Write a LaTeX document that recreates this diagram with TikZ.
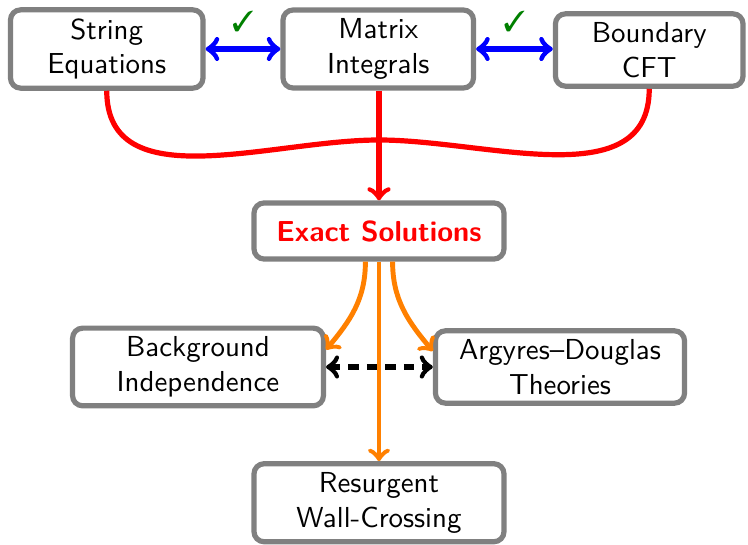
\documentclass[tikz,border=0pt]{standalone}
\usepackage{fontspec}
\usepackage{pifont}
\definecolor{chkgreen}{rgb}{0,0.5,0}
\definecolor{myorange}{rgb}{1,0.5,0}
\begin{document}
\begin{tikzpicture}[x=0.346pt,y=0.346pt,font=\sffamily,
  box/.style={draw=gray,line width=1.8pt,rounded corners=3.5pt,fill=white,
    align=center,inner ysep=3pt,inner xsep=2pt},
  bluelink/.style={draw=blue,line width=1.9pt,<->},
  redlink/.style={draw=red,line width=1.8pt},
  orangelink/.style={draw=myorange,line width=1.7pt,->},
  blacklink/.style={draw=black,line width=1.8pt,<->,dash pattern=on 3.6pt off 2.8pt},
  chk/.style={text=chkgreen,font=\normalsize,inner sep=0pt}]
\useasboundingbox (0,0) rectangle (748,-545);

\node[box,minimum width=66.6pt] (string) at (106.75,-49) {String\\Equations};
\node[box,minimum width=65.9pt] (matrix) at (378.25,-49) {Matrix\\Integrals};
\node[box,minimum width=64.9pt] (boundary) at (649.25,-50) {Boundary\\CFT};
\node[box,minimum width=86.5pt,minimum height=19.4pt,text=red,font=\sffamily\bfseries] (exact) at (379,-231) {Exact Solutions};
\node[box,minimum width=86.8pt] (background) at (198,-367) {Background\\Independence};
\node[box,minimum width=86.2pt] (argyres) at (560,-367) {Argyres--Douglas\\Theories};
\node[box,minimum width=86.5pt] (resurgent) at (379,-502.75) {Resurgent\\Wall-Crossing};

\draw[bluelink] (string.east) -- (matrix.west) node[chk,midway,above=5pt] (chkA) {\ding{51}};
\draw[bluelink] (matrix.east) -- (boundary.west |- matrix.east) node[chk,midway,above=5pt] (chkB) {\ding{51}};

\coordinate (join) at (379,-140);
\draw[redlink] (string.south) to[out=-90,in=180] (join);
\draw[redlink] (boundary.south) to[out=-90,in=0] (join);
\draw[redlink,->] (matrix.south -| exact.north) -- (exact.north);

\draw[orangelink] ([xshift=-4.7pt]exact.south) to[out=-90,in=50] ([yshift=6pt]background.east);
\draw[orangelink] ([xshift=4.7pt]exact.south) to[out=-90,in=130] ([yshift=5.5pt]argyres.west);
\draw[orangelink] (exact.south) -- (resurgent.north);
\draw[blacklink] (background.east) -- (argyres.west);
\end{tikzpicture}
\end{document}
